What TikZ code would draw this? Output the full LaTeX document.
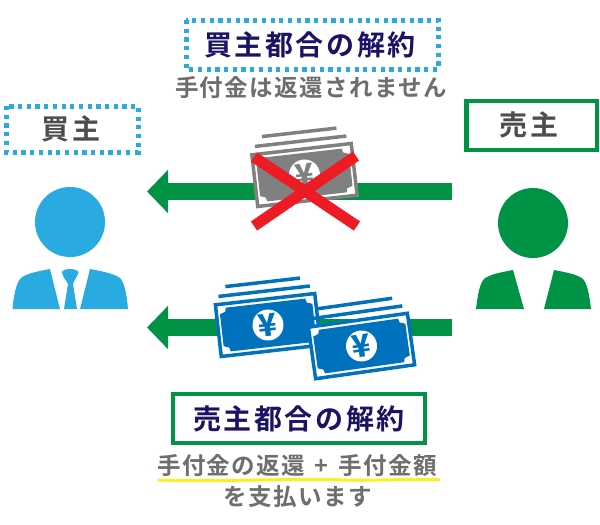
\documentclass[tikz,border=0pt]{standalone}
\usepackage{fontspec}
\setmainfont{Noto Sans CJK JP}[BoldFont={Noto Sans CJK JP Black}]
\newfontfamily\jpb{Noto Sans CJK JP Bold}[LetterSpace=9]
\newfontfamily\jpg{Noto Sans CJK JP Bold}[LetterSpace=6]
\usetikzlibrary{arrows.meta}
\definecolor{skyb}{HTML}{29ABE2}
\definecolor{grn}{HTML}{009245}
\definecolor{navy}{HTML}{1B1464}
\definecolor{txtg}{HTML}{6E6E6E}
\definecolor{txtd}{HTML}{4D4D4D}
\definecolor{billb}{HTML}{0071BC}
\definecolor{billg}{HTML}{808080}
\definecolor{redx}{HTML}{ED1C24}
\definecolor{yel}{HTML}{FCEE21}
\tikzset{
  flow/.style={draw=grn,line width=17pt,-{Triangle[length=21pt,width=42pt,fill=grn]}},
  dotbox/.style={draw=skyb,line width=5pt,dash pattern=on 4.2pt off 4.5pt},
  solidbox/.style={draw=grn,line width=4.5pt},
  head1/.style={inner sep=0pt,text=navy,font=\jpb\fontsize{28}{28}\selectfont},
  role/.style={inner sep=0pt,text=txtd,font=\jpb\fontsize{28}{28}\selectfont},
  sub/.style={inner sep=0pt,text=txtg,font=\jpg\fontsize{23.5}{25}\selectfont},
  pics/bill/.style={code={
    \draw[#1,line width=3.5pt] (-46,-34) -- (46,-34);
    \draw[#1,line width=3.5pt] (-38,-43) -- (37,-43);
    \filldraw[draw=#1,fill=white,line width=3.5pt] (-50,-26) rectangle (50,26);
    \fill[#1] (-40,-22) -- (40,-22) -- (41,-18) -- (46.5,-16) -- (46.5,16) -- (41,18) -- (40,22)
      -- (-40,22) -- (-41,18) -- (-46.5,16) -- (-46.5,-16) -- (-41,-18) -- cycle;
    \fill[white] (0,0) circle (15.5);
    \node[transform shape,inner sep=0pt,text=#1,font=\bfseries\fontsize{31}{31}\selectfont] {¥};
  }}
}
\begin{document}
\begin{tikzpicture}[x=1pt,y=-1pt]
\useasboundingbox (0,0) rectangle (600,525);
% role and caption boxes
\draw[dotbox] (6.5,106) rectangle (138,152);
\node[role] (buyer) at (71,129) {買主};
\draw[solidbox] (466.5,101) rectangle (597,150);
\node[role] (seller) at (529,125) {売主};
\draw[dotbox] (186,20) rectangle (438,69);
\node[head1] (t1) at (310,45) {買主都合の解約};
\node[sub] (s1) at (311,88) {手付金は返還されません};
% people
\fill[skyb] (70,222) circle (35);
\fill[skyb] (12.5,309) .. controls (14,292) and (17,282) .. (21,278) .. controls (27,273) and (40,271) .. (50,269) -- (60,309) -- cycle;
\fill[skyb] (128,309) .. controls (126.5,292) and (124,282) .. (120,278) .. controls (113,273) and (100,271) .. (90,269) -- (80,309) -- cycle;
\fill[skyb] (62,272) .. controls (64,268) and (76,268) .. (78.5,272) .. controls (78,276) and (74,280) .. (73,284) -- (77,309) -- (64,309) -- (68,284) .. controls (66,280) and (62,276) .. (62,272) -- cycle;
\fill[grn] (533,223) circle (35);
\fill[grn] (476,309) .. controls (478,292) and (480,284) .. (484,279) .. controls (490,274) and (503,272) .. (513,270) -- (524,309) -- cycle;
\fill[grn] (591,309) .. controls (589,292) and (587,284) .. (583,279) .. controls (577,274) and (564,272) .. (554,270) -- (544,309) -- cycle;
% arrows
\coordinate (a1s) at (452,191.5);
\coordinate (a1e) at (147,191.5);
\coordinate (a2s) at (452,327.5);
\coordinate (a2e) at (147,327.5);
\draw[flow] (a1s) -- (a1e);
\draw[flow] (a2s) -- (a2e);
% notes
\pic[rotate=6.5] at (304.5,175) {bill=billg};
\draw[redx,line width=11pt] (254,157) -- (357,226);
\draw[redx,line width=11pt] (356,156) -- (254,226);
\pic[rotate=6.5] at (268,325) {bill=billb};
\pic[rotate=8] at (361.5,346) {bill=billb};
% bottom caption
\draw[solidbox] (173,394) rectangle (425,443);
\node[head1] (t2) at (299,419) {売主都合の解約};
\node[sub] (s2) at (297,466) {手付金の返還\hspace{3pt} + \hspace{3pt}手付金額};
\draw[yel,line width=3pt] (158,480) .. controls (220,482) and (300,478) .. (345,480) .. controls (380,481) and (420,478) .. (440,480);
\node[sub] (s3) at (298,497) {を支払います};
\end{tikzpicture}
\end{document}
